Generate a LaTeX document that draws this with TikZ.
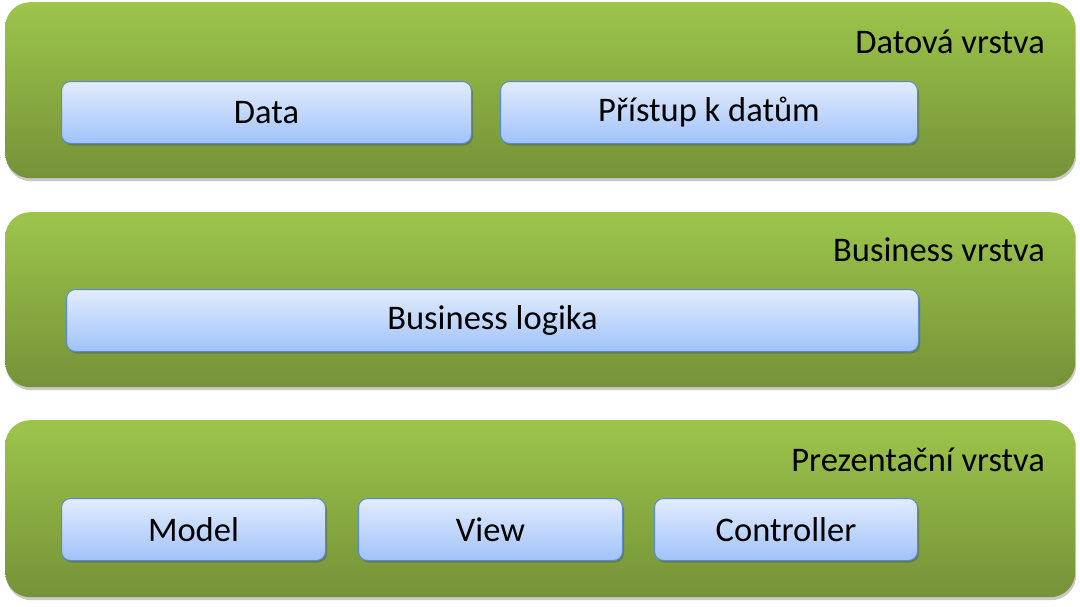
\documentclass[tikz,border=0pt]{standalone}
\usepackage{fontspec}
\setmainfont{Carlito}
\usetikzlibrary{shadows}
\definecolor{gtop}{RGB}{157,197,75}
\definecolor{gbot}{RGB}{117,146,56}
\definecolor{btop}{RGB}{227,236,253}
\definecolor{bbot}{RGB}{160,194,250}
\definecolor{bdraw}{RGB}{84,138,212}
\tikzset{
  layer/.style={rounded corners=25pt, top color=gtop, bottom color=gbot, draw=none,
    anchor=north west, inner sep=0pt,
    drop shadow={shadow xshift=1pt, shadow yshift=-3pt, opacity=0.35, fill=black!60}},
  comp/.style={rounded corners=9pt, top color=btop, bottom color=bbot, draw=bdraw, line width=1pt,
    anchor=north west, inner sep=0pt, font=\fontsize{34.5}{40}\selectfont,
    drop shadow={shadow xshift=1.5pt, shadow yshift=-2pt, opacity=0.4, fill=black!70}},
  ltitle/.style={anchor=base east, inner sep=0pt, font=\fontsize{34.5}{40}\selectfont}
}
\begin{document}
\begin{tikzpicture}[x=1pt,y=-1pt]
\useasboundingbox[fill=white] (0,0) rectangle (1080,606);
% layers
\node[layer, minimum width=1070pt, minimum height=176pt] (L1) at (5,2) {};
\node[layer, minimum width=1070pt, minimum height=175pt] (L2) at (5,212) {};
\node[layer, minimum width=1070pt, minimum height=177pt] (L3) at (5,420) {};
% titles
\node[ltitle] (T1) at (1045,53) {Datová vrstva};
\node[ltitle] (T2) at (1045,261) {Business vrstva};
\node[ltitle] (T3) at (1045,471) {Prezentační vrstva};
% components
\node[comp, minimum width=410pt, minimum height=62pt] (data) at (61,81) {Data};
\node[comp, minimum width=417pt, minimum height=62pt] (pristup) at (500,81) {Přístup k datům};
\node[comp, minimum width=852pt, minimum height=62pt] (bl) at (66,289) {Business logika};
\node[comp, minimum width=264pt, minimum height=62pt] (model) at (61,498) {Model};
\node[comp, minimum width=264pt, minimum height=62pt] (view) at (358,498) {View};
\node[comp, minimum width=263pt, minimum height=62pt] (ctrl) at (654,498) {Controller};
\end{tikzpicture}
\end{document}
